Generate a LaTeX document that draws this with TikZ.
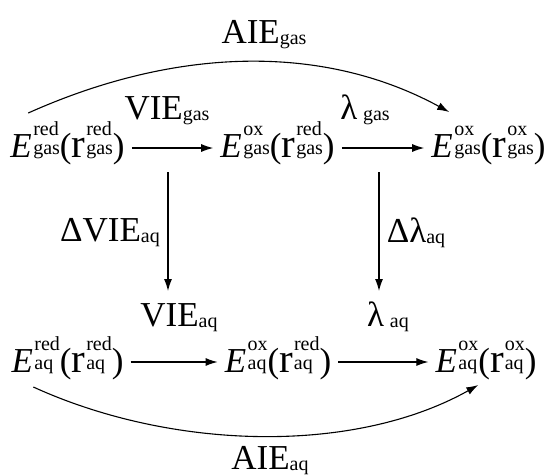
\documentclass[tikz,border=0pt]{standalone}
\usepackage{fontspec}
\setmainfont{Liberation Serif}
\usetikzlibrary{arrows.meta}

\newcommand{\scrfont}{\fontsize{20}{20}\selectfont}
% stacked super/subscript, left aligned
\newcommand{\supsub}[2]{{\scrfont\setbox0=\hbox{#1}\setbox2=\hbox{#2}%
  \ifdim\wd2>\wd0 \setbox0=\hbox to \wd2{#1\hfil}\fi
  \rlap{\raisebox{2.5pt}{#2}}\raisebox{21.5pt}{\box0}}}
\newcommand{\Eterm}[3]{\textit{E}\kern1.5pt\supsub{#1}{#3}({\fontsize{41}{41}\selectfont r}\kern1pt\supsub{#2}{#3})}
\newcommand{\lsub}[1]{\raisebox{-1pt}{\scrfont #1}}

\begin{document}
\begin{tikzpicture}[x=1pt,y=-1pt,
    every node/.style={font=\fontsize{35}{40}\selectfont},
    term/.style={inner xsep=7pt, inner ysep=3pt, anchor=base},
    lbl/.style={inner sep=0pt, anchor=base},
    conn/.style={line width=1.1pt, -{Latex[length=12pt,width=8pt]}}]
  \useasboundingbox (0,0) rectangle (549,475);

  % gas phase row
  \node[term] (Lg) at (67.5,157) {\Eterm{red}{red}{gas}};
  \node[term] (Mg) at (277.5,157) {\Eterm{ox}{red}{gas}};
  \node[term] (Rg) at (488.5,157) {\Eterm{ox}{ox}{gas}};
  % aqueous row
  \node[term] (La) at (67.5,372) {\Eterm{red}{red}{aq}};
  \node[term] (Ma) at (278,372) {\Eterm{ox}{red}{aq}};
  \node[term] (Ra) at (486,372) {\Eterm{ox}{ox}{aq}};

  % labels
  \node[lbl] (aiegas) at (264,43) {AIE\lsub{gas}};
  \node[lbl] (viegas) at (167,119) {VIE\lsub{gas}};
  \node[lbl] (lamgas) at (365,119) {λ\,\lsub{gas}};
  \node[lbl] (dvie)   at (110,241) {ΔVIE\lsub{aq}};
  \node[lbl] (dlam)   at (416,242) {Δλ\lsub{aq}};
  \node[lbl] (vieaq)  at (179,326) {VIE\lsub{aq}};
  \node[lbl] (lamaq)  at (388,326) {λ\,\lsub{aq}};
  \node[lbl] (aieaq)  at (270,469) {AIE\lsub{aq}};

  \coordinate (dvA) at (168,172);
  \coordinate (dvB) at (168,291);
  \coordinate (dlA) at (379,172);
  \coordinate (dlB) at (379,291);

  \draw[conn] ([yshift=9pt]Lg.base east) -- ([yshift=9pt]Mg.base west);
  \draw[conn] ([yshift=9pt]Mg.base east) -- ([yshift=9pt]Rg.base west);
  \draw[conn] ([yshift=10pt]La.base east) -- ([yshift=10pt]Ma.base west);
  \draw[conn] ([yshift=10pt]Ma.base east) -- ([yshift=10pt]Ra.base west);
  \draw[conn] (dvA) -- (dvB);
  \draw[conn] (dlA) -- (dlB);
  \draw[conn] ([shift={(25pt,44pt)}]Lg.base west) .. controls +(152,-68) and +(-123,-67) .. ([shift={(25pt,45pt)}]Rg.base west);
  \draw[conn] ([shift={(29pt,-15pt)}]La.base west) .. controls +(138,63) and +(-125,70) .. ([shift={(50pt,-13pt)}]Ra.base west);
\end{tikzpicture}
\end{document}
